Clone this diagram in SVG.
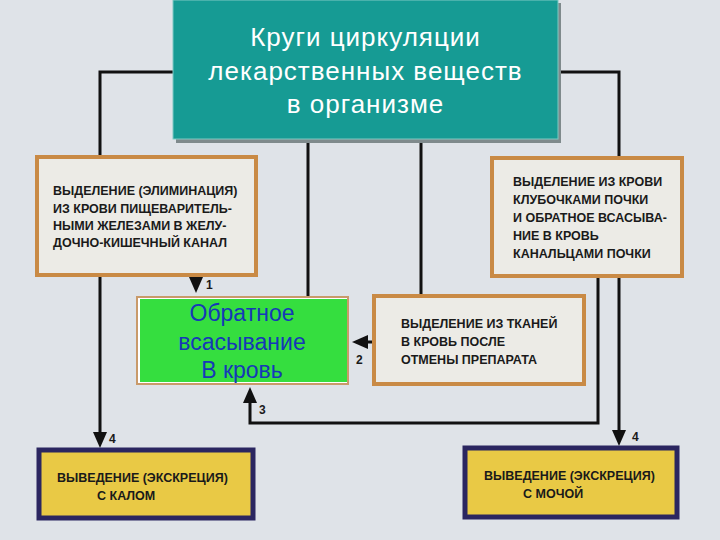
<svg xmlns="http://www.w3.org/2000/svg" width="720" height="540" viewBox="0 0 720 540">
<defs>
<style>
.bg{fill:#dfe3e8}
.ln{fill:none;stroke:#111;stroke-width:3}
.ah{fill:#111}
.note{fill:#ecebe6;stroke:#c98a45;stroke-width:4}
.exc{fill:#e9c945;stroke:#2b2660;stroke-width:5}
.cap{font-family:"Liberation Sans",Arial,sans-serif;font-weight:bold;font-size:12.5px;fill:#1a1a1a}
.num{font-family:"Liberation Sans",Arial,sans-serif;font-weight:bold;font-size:12px;fill:#1a1a1a}
.title{font-family:"Liberation Sans",Arial,sans-serif;font-size:26px;letter-spacing:1px;fill:#ffffff;text-anchor:middle}
.green{font-family:"Liberation Sans",Arial,sans-serif;font-size:23px;fill:#1638b8;text-anchor:middle}
</style>
</defs>
<rect class="bg" x="0" y="0" width="720" height="540"/>

<g id="connectors">
  <polyline class="ln" points="173,72 100,72 100,432"/>
  <polygon class="ah" points="93,432 107,432 100,448"/>
  <polyline class="ln" points="558,72 619,72 619,430"/>
  <polygon class="ah" points="612,430 626,430 619,446"/>
  <line class="ln" x1="308" y1="139" x2="308" y2="296"/>
  <line class="ln" x1="421" y1="139" x2="421" y2="295"/>
  <line class="ln" x1="196" y1="276" x2="196" y2="280"/>
  <polygon class="ah" points="189,277 203,277 196,293"/>
  <line class="ln" x1="372" y1="342" x2="366" y2="342"/>
  <polygon class="ah" points="368,335 368,349 352,342"/>
  <polyline class="ln" points="598,277 598,423 250,423 250,402"/>
  <polygon class="ah" points="243,403 257,403 250,387"/>
  <text class="num" x="206" y="289">1</text>
  <text class="num" x="356" y="364">2</text>
  <text class="num" x="259" y="414">3</text>
  <text class="num" x="109" y="443">4</text>
  <text class="num" x="632" y="441">4</text>
</g>

<g id="title">
  <rect x="176" y="3" width="385" height="140" fill="#7f8a8c"/>
  <rect x="173" y="0" width="385" height="139" fill="#169b94" stroke="#7fc9c3" stroke-width="1"/>
  <text class="title" x="365.5" y="46">Круги циркуляции</text>
  <text class="title" x="365.5" y="80">лекарственных веществ</text>
  <text class="title" x="365.5" y="113">в организме</text>
</g>

<g id="elimination">
  <rect class="note" x="37" y="157" width="219" height="118"/>
  <text class="cap" x="53" y="195">ВЫДЕЛЕНИЕ (ЭЛИМИНАЦИЯ)</text>
  <text class="cap" x="53" y="213">ИЗ КРОВИ ПИЩЕВАРИТЕЛЬ-</text>
  <text class="cap" x="53" y="230">НЫМИ ЖЕЛЕЗАМИ В ЖЕЛУ-</text>
  <text class="cap" x="53" y="247">ДОЧНО-КИШЕЧНЫЙ КАНАЛ</text>
</g>

<g id="kidney">
  <rect class="note" x="492" y="158" width="190" height="118"/>
  <text class="cap" x="513" y="186">ВЫДЕЛЕНИЕ ИЗ КРОВИ</text>
  <text class="cap" x="513" y="204">КЛУБОЧКАМИ ПОЧКИ</text>
  <text class="cap" x="513" y="222">И ОБРАТНОЕ ВСАСЫВА-</text>
  <text class="cap" x="513" y="240">НИЕ В КРОВЬ</text>
  <text class="cap" x="513" y="258">КАНАЛЬЦАМИ ПОЧКИ</text>
</g>

<g id="tissues">
  <rect class="note" x="374" y="296" width="210" height="88"/>
  <text class="cap" x="401" y="328">ВЫДЕЛЕНИЕ ИЗ ТКАНЕЙ</text>
  <text class="cap" x="401" y="346">В КРОВЬ ПОСЛЕ</text>
  <text class="cap" x="401" y="364">ОТМЕНЫ  ПРЕПАРАТА</text>
</g>

<g id="reabsorption">
  <rect x="136" y="296" width="213" height="89" fill="#c99a6a"/>
  <rect x="138" y="298" width="209" height="85" fill="#ffffff"/>
  <rect x="140" y="299" width="207" height="83" fill="#35de3f"/>
  <text class="green" x="242" y="321">Обратное</text>
  <text class="green" x="242" y="350">всасывание</text>
  <text class="green" x="242" y="378">В кровь</text>
</g>

<g id="feces">
  <rect class="exc" x="39" y="450" width="214" height="68"/>
  <text class="cap" x="57" y="482">ВЫВЕДЕНИЕ (ЭКСКРЕЦИЯ)</text>
  <text class="cap" x="97" y="500">С КАЛОМ</text>
</g>

<g id="urine">
  <rect class="exc" x="465" y="448" width="212" height="69"/>
  <text class="cap" x="484" y="480">ВЫВЕДЕНИЕ (ЭКСКРЕЦИЯ)</text>
  <text class="cap" x="523" y="498">С МОЧОЙ</text>
</g>
</svg>
